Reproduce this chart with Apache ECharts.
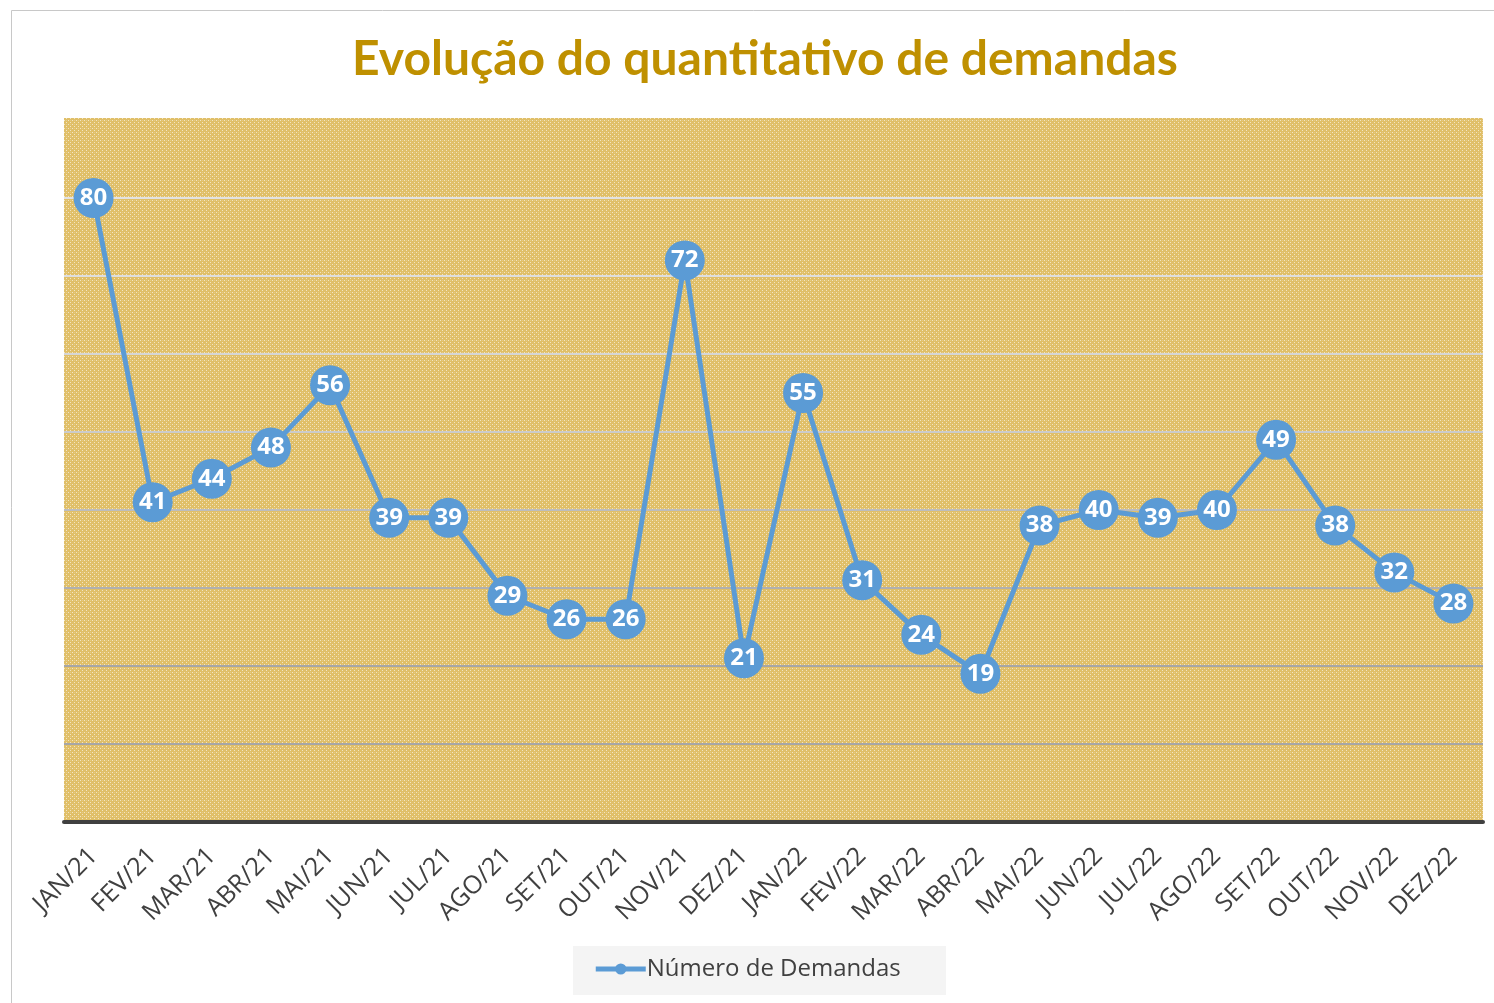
<!DOCTYPE html>
<html><head><meta charset="utf-8">
<script src="https://cdn.jsdelivr.net/npm/echarts@6/dist/echarts.min.js"></script>
<style>html,body{margin:0;padding:0;background:#fff}#c{width:1494px;height:1003px}</style>
</head><body><div id="c"></div>
<script>
const categories = ['JAN/21','FEV/21','MAR/21','ABR/21','MAI/21','JUN/21','JUL/21','AGO/21','SET/21','OUT/21','NOV/21','DEZ/21','JAN/22','FEV/22','MAR/22','ABR/22','MAI/22','JUN/22','JUL/22','AGO/22','SET/22','OUT/22','NOV/22','DEZ/22'];
const demandas = [80,41,44,48,56,39,39,29,26,26,72,21,55,31,24,19,38,40,39,40,49,38,32,28];
const seriesName = 'Número de Demandas';
const titleText = 'Evolução do quantitativo de demandas';

// dotted texture for plot background
const pc = document.createElement('canvas');
pc.width = 4; pc.height = 4;
const px = pc.getContext('2d');
px.fillStyle = '#e0bf68'; px.fillRect(0,0,4,4);
px.fillStyle = 'rgba(255,255,255,0.6)';
px.fillRect(0,0,1,1); px.fillRect(2,2,1,1);
px.fillStyle = 'rgba(255,255,255,0.2)';
px.fillRect(2,0,1,1);

const chart = echarts.init(document.getElementById('c'));
chart.setOption({
  animation:false,
  backgroundColor:'#fff',
  title:{text:titleText,left:760,top:31,textAlign:'center',
    textStyle:{color:'#bf9000',fontSize:48,fontWeight:'bold',fontFamily:'Lato'}},
  graphic:[
    {type:'rect',shape:{x:11.5,y:10.5,width:1490,height:1000},style:{fill:null,stroke:'#c8c8c8',lineWidth:1},z:-10},
    {type:'rect',shape:{x:64,y:118,width:1419,height:704},style:{fill:{image:pc,repeat:'repeat'}},z:-5},
    {type:'rect',shape:{x:573,y:946,width:373,height:49},style:{fill:'#f4f4f4'},z:-5}
  ],
  legend:{data:[seriesName],bottom:17,left:'center',itemWidth:50,itemHeight:14,itemGap:4,
    lineStyle:{width:5},
    textStyle:{fontSize:24,color:'#404040',fontFamily:'Open Sans',padding:[0,0,0,-4]}},
  grid:{left:64,right:11,top:120,bottom:181,containLabel:false},
  xAxis:{type:'category',data:categories,boundaryGap:true,
    axisLine:{lineStyle:{color:'#404040',width:4}},
    axisTick:{show:false},
    axisLabel:{rotate:45,color:'#404040',fontSize:25,fontFamily:'Open Sans',margin:30,interval:0}},
  yAxis:{type:'value',min:0,max:90,interval:10,
    axisLabel:{show:false},axisLine:{show:false},axisTick:{show:false},
    splitLine:{lineStyle:{color:['#404040','#a6a6a6','#a6a6a6','#b0b0b0','#bdbdbd','#cbcbcb','#d6d6d6','#dedede','#e2e2e2','rgba(0,0,0,0)'],width:2}}},
  series:[{name:seriesName,type:'line',data:demandas,
    symbol:'circle',symbolSize:40,
    itemStyle:{color:'#5b9bd5'},
    lineStyle:{color:'#5b9bd5',width:5},
    label:{show:true,position:'inside',color:'#fff',fontSize:24,fontWeight:'bold',fontFamily:'Open Sans'}}]
});
</script></body></html>
